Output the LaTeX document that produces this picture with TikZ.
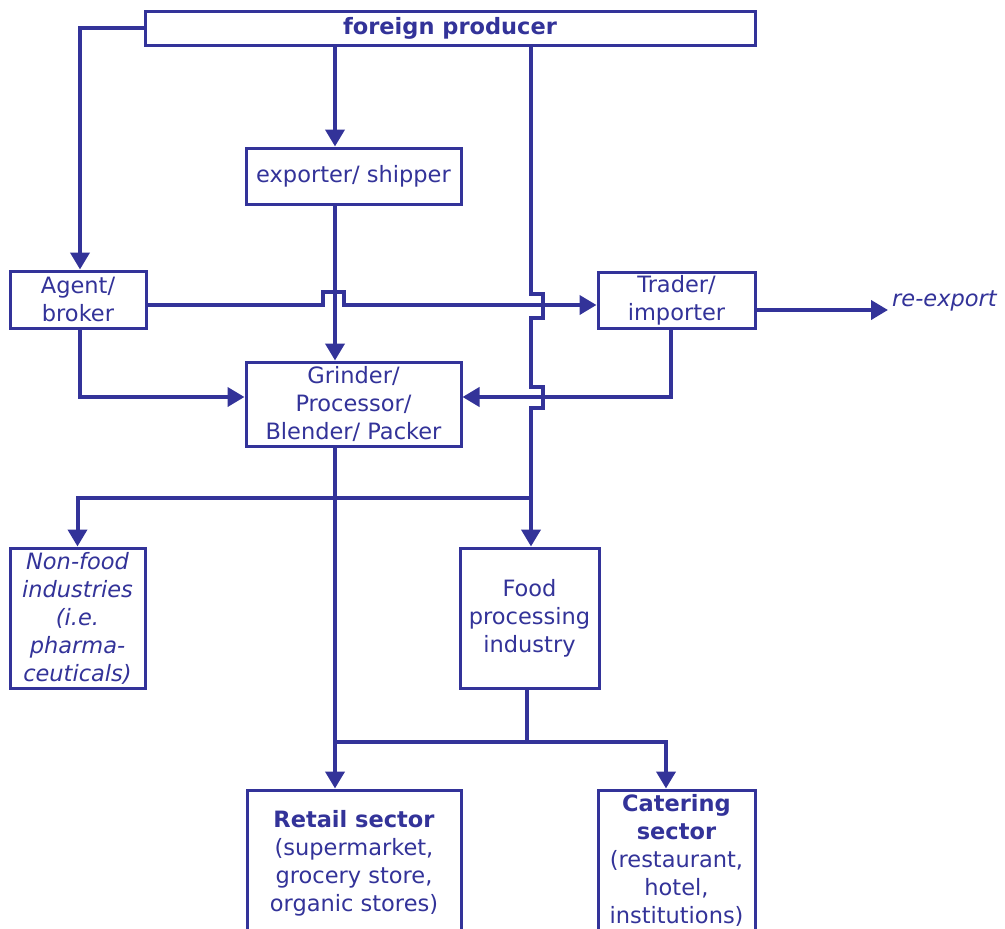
\documentclass[tikz,border=0pt]{standalone}
\usepackage{fontspec}
\setmainfont{DejaVu Sans}
\usetikzlibrary{arrows.meta}
\definecolor{cblue}{RGB}{51,51,153}
\tikzset{
  box/.style={draw=cblue, line width=3pt, rectangle, inner sep=0pt, align=center, text=cblue,
    font=\fontsize{22.5}{28}\selectfont},
  conn/.style={draw=cblue, line width=4pt},
  arr/.style={conn, -{Triangle[length=17pt,width=19pt]}},
}
\begin{document}
\begin{tikzpicture}[x=1pt,y=-1pt]
\clip (0,0) rectangle (1005,929);
\fill[white] (0,0) rectangle (1005,929);
% nodes
\node[box, minimum width=610pt, minimum height=34pt] (fp) at (450,28) {\textbf{foreign producer}};
\node[box, minimum width=215pt, minimum height=56pt] (exp) at (353.5,176) {exporter/ shipper};
\node[box, minimum width=136pt, minimum height=57pt] (agent) at (78,299.5) {Agent/\\broker};
\node[box, minimum width=157pt, minimum height=56pt] (trader) at (676.5,300) {Trader/\\importer};
\node[box, minimum width=215pt, minimum height=84pt] (grind) at (353.5,404) {Grinder/\\Processor/\\Blender/ Packer};
\node[box, minimum width=135pt, minimum height=140pt] (nonfood) at (77.5,618) {\itshape Non-food\\\itshape industries\\\itshape (i.e.\\\itshape pharma-\\\itshape ceuticals)};
\node[box, minimum width=139pt, minimum height=140pt] (food) at (529.5,618) {Food\\processing\\industry};
\node[box, minimum width=214pt, minimum height=146pt] (retail) at (354,863) {\textbf{Retail sector}\\(supermarket,\\grocery store,\\organic stores)};
\node[box, minimum width=157pt, minimum height=141pt] (cater) at (676.5,860.5) {\textbf{Catering}\\\textbf{sector}\\(restaurant,\\hotel,\\institutions)};
\node[text=cblue, font=\fontsize{22.5}{28}\selectfont\itshape, anchor=west, inner sep=0pt] (reexp) at (892,301) {re-export};
% helper coordinates
\coordinate (c1) at (335,0);
\coordinate (c2) at (531,0);
\coordinate (c3) at (671,0);
\coordinate (c4) at (527,0);
\coordinate (c5) at (666,0);
\coordinate (c6) at (80,0);
\coordinate (r305) at (0,305);
\coordinate (r310) at (0,310);
\coordinate (r397) at (0,397);
\coordinate (r742) at (0,742);
\coordinate (split) at (531,498);
% connectors
\draw[arr] (fp.west) -| (c6 |- agent.north);
\draw[arr] (c1 |- fp.south) -- (c1 |- exp.north);
\draw[arr] (c2 |- fp.south) -- (531,294) -- (543,294) -- (543,318) -- (531,318) -- (531,387) -- (543,387) -- (543,408) -- (531,408) -- (c2 |- food.north);
\draw[arr] (split) -| (nonfood.north);
\draw[arr] (agent.east |- r305) -- (323,305) -- (323,292) -- (344,292) -- (344,305) -- (trader.west |- r305);
\draw[arr] (c1 |- exp.south) -- (c1 |- grind.north);
\draw[arr] (c6 |- agent.south) |- (grind.west |- r397);
\draw[arr] (c3 |- trader.south) |- (grind.east |- r397);
\draw[arr] (trader.east |- r310) -- ([xshift=-4pt]reexp.west |- r310);
\draw[arr] (c1 |- grind.south) -- (c1 |- retail.north);
\draw[conn] (c4 |- food.south) -- (c4 |- r742);
\draw[arr] (c1 |- r742) -| (c5 |- cater.north);
\end{tikzpicture}
\end{document}
